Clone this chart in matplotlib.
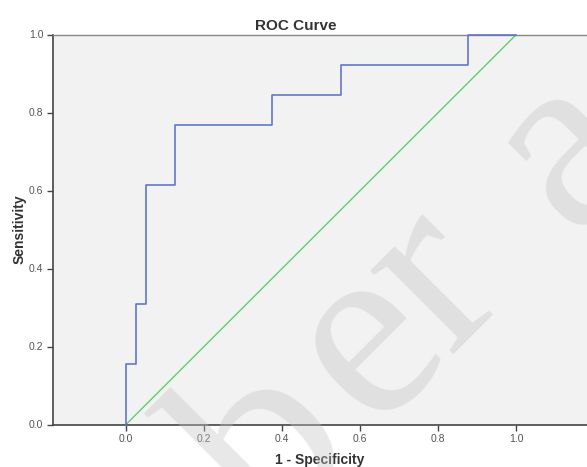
import matplotlib.pyplot as plt

# ROC curve breakpoints (1 - specificity, sensitivity)
fpr = [0.0, 0.0, 0.025, 0.025, 0.05, 0.05, 0.125, 0.125, 0.375, 0.375, 0.55, 0.55, 0.875, 0.875, 1.0]
tpr = [0.0, 0.154, 0.154, 0.308, 0.308, 0.615, 0.615, 0.769, 0.769, 0.846, 0.846, 0.923, 0.923, 1.0, 1.0]
ref_line = [0.0, 1.0]
ticks = [0.0, 0.2, 0.4, 0.6, 0.8, 1.0]
tick_labels = ["0.0", "0.2", "0.4", "0.6", "0.8", "1.0"]

# watermark letters and their centres (figure pixels from top-left)
wm_letters = ["b", "e", "r", "a"]
wm_centres = [(272, 450), (369, 343), (436, 280), (569, 150)]

plt.rcParams['font.family'] = ['Liberation Sans', 'DejaVu Sans']

W, H = 587, 467
fig = plt.figure(figsize=(W / 100, H / 100), dpi=100)
ax = fig.add_axes([53 / W, 1 - 424.5 / H, 1 - 53 / W, (424.5 - 34.5) / H])
ax.set_facecolor('#f2f2f2')

ax.plot(ref_line, ref_line, color='#5fcf6f', lw=1.0)
ax.plot(fpr, tpr, color='#6078c8', lw=1.2, clip_on=False, zorder=5)

ax.set_xlim(-0.187, 1.181)
ax.set_ylim(0, 1)
ax.set_xticks(ticks)
ax.set_xticklabels(tick_labels)
ax.set_yticks(ticks)
ax.set_yticklabels(tick_labels)
ax.tick_params(direction='out', length=4, width=1, color='#444444', labelcolor='#555555', labelsize=7.5, pad=3)

for s in ['left', 'bottom']:
    ax.spines[s].set_color('#444444')
    ax.spines[s].set_linewidth(1.2)
ax.spines['top'].set_color('#888888')
ax.spines['top'].set_linewidth(1.0)
ax.spines['right'].set_visible(False)

ax.set_xlabel("1 - Specificity", fontsize=10, fontweight='bold', color='#333333', labelpad=6)
ax.set_ylabel("Sensitivity", fontsize=10, fontweight='bold', color='#333333', labelpad=1.5)
fig.text(296 / W, 1 - 26 / H, "ROC Curve", ha='center', va='center', fontsize=11, fontweight='bold', color='#333333')

# faint watermark
for ch, (px, py) in zip(wm_letters, wm_centres):
    fig.text(px / W, 1 - py / H, ch, ha='center', va='center', rotation=45, rotation_mode='anchor',
             fontsize=185, family='Liberation Serif', color='#c3c3c3', alpha=0.38, zorder=10)

plt.savefig("out.png", dpi=100)
